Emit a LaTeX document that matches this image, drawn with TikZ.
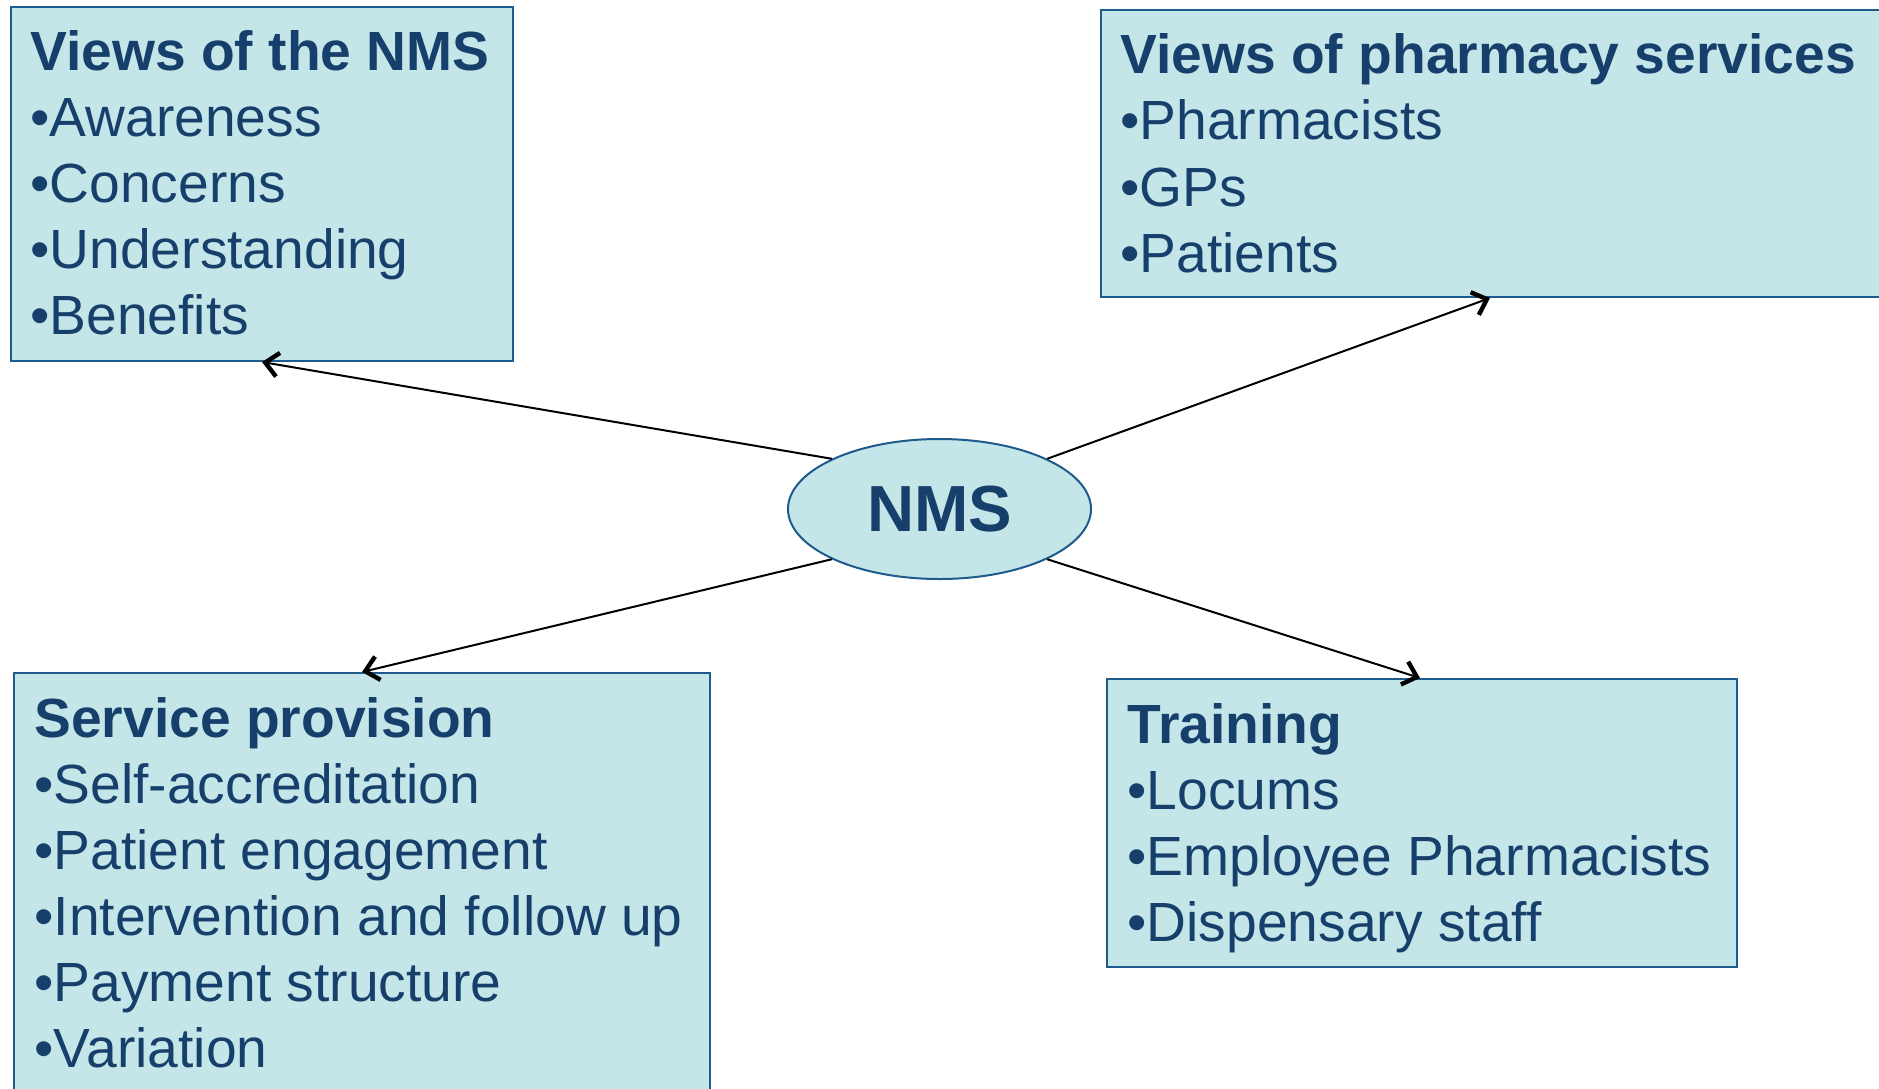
\documentclass[tikz,border=0pt]{standalone}
\usepackage{fontspec}
\setmainfont{Liberation Sans}
\usetikzlibrary{arrows.meta,shapes.geometric}
\definecolor{txtblue}{HTML}{173F6B}
\definecolor{boxfill}{HTML}{C5E6E9}
\definecolor{boxline}{HTML}{1F5A8C}
\tikzset{
  infobox/.style={draw=boxline, fill=boxfill, line width=1pt, rectangle, inner sep=0pt, anchor=north west},
  hubnode/.style={draw=boxline, fill=boxfill, line width=1pt, ellipse, inner sep=0pt,
    minimum width=151.5pt, minimum height=70pt, text=txtblue, font=\fontsize{32.6}{38}\selectfont\bfseries},
  titletext/.style={anchor=base west, inner sep=0pt, text=txtblue, font=\fontsize{27.6}{33}\selectfont\bfseries},
  itemtext/.style={anchor=base west, inner sep=0pt, text=txtblue, font=\fontsize{27.6}{33}\selectfont},
  link/.style={draw=black, line width=1pt, -{Straight Barb[length=6.5pt,width=12pt,line width=2.2pt]}}
}
\begin{document}
\begin{tikzpicture}[x=0.5pt,y=-0.5pt]
\clip (0,0) rectangle (1879,1088);
\useasboundingbox (0,0) rectangle (1879,1088);
\fill[white] (0,0) rectangle (1879,1088);

% boxes
\node[infobox, minimum width=251pt, minimum height=177pt] (vnms) at (10,6) {};
\node[infobox, minimum width=392pt, minimum height=143.5pt] (vph) at (1100,9) {};
\node[infobox, minimum width=348pt, minimum height=220pt] (sp) at (13,672) {};
\node[infobox, minimum width=315pt, minimum height=144pt] (tr) at (1106,678) {};

% box texts
\node[titletext] (vnmsT) at (30,70) {Views of the NMS};
\foreach \t [count=\i] in {Awareness,Concerns,Understanding,Benefits}
  \node[itemtext] (vnms\i) at (30,{70+66*\i}) {•\t};

\node[titletext] (vphT) at (1120,73) {Views of pharmacy services};
\foreach \t [count=\i] in {Pharmacists,GPs,Patients}
  \node[itemtext] (vph\i) at (1120,{73+66.5*\i}) {•\t};

\node[titletext] (spT) at (34,737) {Service provision};
\foreach \t [count=\i] in {Self-accreditation,Patient engagement,Intervention and follow up,Payment structure,Variation}
  \node[itemtext] (sp\i) at (34,{737+66*\i}) {•\t};

\node[titletext] (trT) at (1127,743) {Training};
\foreach \t [count=\i] in {Locums,Employee Pharmacists,Dispensary staff}
  \node[itemtext] (tr\i) at (1127,{743+66.3*\i}) {•\t};

% hub
\node[hubnode] (nms) at (939.5,509) {NMS};

% connectors
\draw[link] (nms.155) -- (vnms.south);
\draw[link] (nms.25) -- ([xshift=-1.5pt]vph.south);
\draw[link] (nms.205) -- (sp.north);
\draw[link] (nms.335) -- ([xshift=-1pt]tr.north);
\end{tikzpicture}
\end{document}
